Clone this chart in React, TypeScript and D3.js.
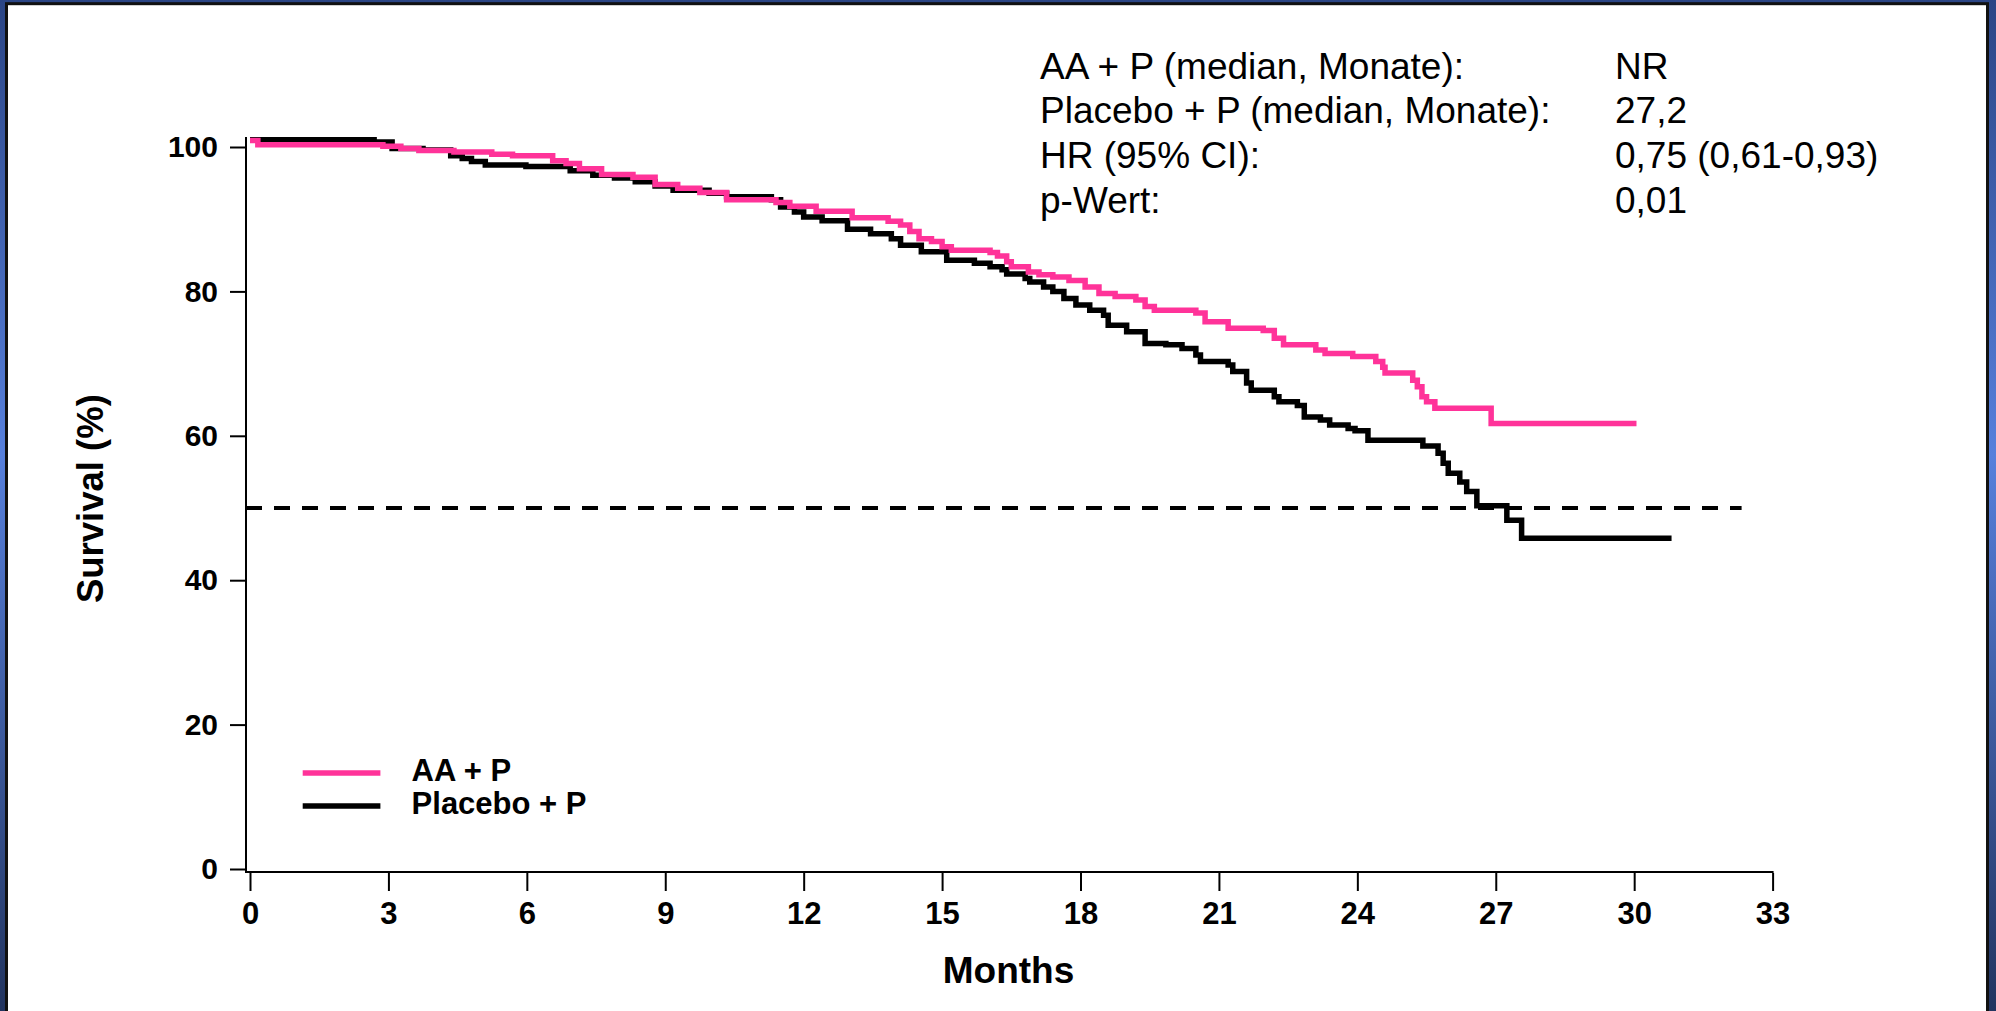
import * as d3 from "d3";
import { useEffect, useRef } from "react";

// Kaplan-Meier steps: [month, survival %]
const aaSteps: [number, number][] = [
  [0, 100.9], [0.17, 100.3], [2.88, 100.1], [3.27, 99.8], [3.66, 99.5],
  [4.42, 99.3], [5.24, 99.0], [5.69, 98.8], [6.56, 98.1], [6.85, 97.7],
  [7.14, 97.0], [7.62, 96.2], [8.3, 95.8], [8.78, 94.8], [9.27, 94.3],
  [9.75, 93.7], [10.33, 92.7], [11.4, 92.3], [11.7, 91.8], [12.27, 91.1],
  [13.05, 90.2], [13.83, 89.7], [14.1, 89.2], [14.3, 88.3], [14.5, 87.3],
  [14.77, 86.9], [15.0, 86.2], [15.2, 85.7], [16.04, 85.4], [16.2, 84.9],
  [16.4, 84.1], [16.5, 83.4], [16.87, 82.7], [17.1, 82.3], [17.4, 82.0],
  [17.75, 81.5], [18.1, 80.6], [18.4, 79.7], [18.75, 79.3], [19.2, 78.8],
  [19.4, 77.9], [19.6, 77.4], [20.5, 77.0], [20.7, 75.8], [21.2, 74.9],
  [21.96, 74.6], [22.2, 73.5], [22.4, 72.6], [23.1, 71.9], [23.3, 71.4],
  [23.9, 71.0], [24.4, 70.3], [24.55, 69.5], [24.6, 68.7], [25.2, 67.7],
  [25.3, 66.8], [25.4, 65.4], [25.5, 64.7], [25.68, 63.8], [26.9, 61.7],
  [30.05, 61.7],
];

const placeboSteps: [number, number][] = [
  [0, 101.0], [2.69, 100.7], [3.08, 99.8], [3.75, 99.6], [4.35, 98.8],
  [4.6, 98.4], [4.8, 98.0], [5.1, 97.5], [5.98, 97.3], [6.94, 96.7],
  [7.43, 96.1], [7.9, 95.7], [8.35, 95.2], [8.78, 94.6], [9.17, 94.0],
  [9.95, 93.6], [10.33, 93.1], [11.3, 92.7], [11.5, 91.7], [11.8, 91.0],
  [12.0, 90.3], [12.4, 89.8], [12.95, 88.6], [13.45, 88.0], [13.9, 87.3],
  [14.1, 86.4], [14.55, 85.5], [15.1, 84.3], [15.7, 83.9], [16.04, 83.4],
  [16.3, 83.0], [16.4, 82.4], [16.8, 81.8], [16.9, 81.3], [17.2, 80.6],
  [17.4, 80.0], [17.64, 79.0], [17.9, 78.1], [18.2, 77.4], [18.5, 76.7],
  [18.6, 75.3], [19.0, 74.4], [19.4, 72.8], [19.85, 72.6], [20.2, 72.1],
  [20.5, 71.2], [20.6, 70.3], [21.2, 69.8], [21.3, 68.9], [21.6, 67.3],
  [21.7, 66.3], [22.2, 65.4], [22.3, 64.7], [22.7, 64.2], [22.85, 62.6],
  [23.2, 62.2], [23.4, 61.5], [23.8, 61.0], [23.95, 60.7], [24.23, 59.4],
  [25.42, 58.6], [25.75, 57.6], [25.86, 56.2], [25.97, 54.8], [26.22, 53.6],
  [26.37, 52.3], [26.59, 50.3], [27.24, 48.3], [27.56, 45.8], [30.81, 45.8],
];

const xTicks = [0, 3, 6, 9, 12, 15, 18, 21, 24, 27, 30, 33];
const yTicks = [0, 20, 40, 60, 80, 100];
const medianLevel = 50;

const seriesLabels = ["AA + P", "Placebo + P"];
const seriesColors = ["#ff3399", "#000000"];

const statLabels = [
  "AA + P (median, Monate):",
  "Placebo + P (median, Monate):",
  "HR (95% CI):",
  "p-Wert:",
];
const statValues = ["NR", "27,2", "0,75 (0,61-0,93)", "0,01"];

const width = 1996;
const height = 1011;
const font = "'Liberation Sans', Arial, Helvetica, sans-serif";

export default function App() {
  const svgRef = useRef<SVGSVGElement>(null);

  useEffect(() => {
    if (!svgRef.current) return;
    const svg = d3.select(svgRef.current);
    svg.selectAll("*").remove();

    // blue slide frame
    const grad = svg
      .append("defs")
      .append("linearGradient")
      .attr("id", "bg")
      .attr("x1", 0)
      .attr("y1", 0)
      .attr("x2", 0)
      .attr("y2", 1);
    grad.append("stop").attr("offset", "0%").attr("stop-color", "#2b4585");
    grad.append("stop").attr("offset", "45%").attr("stop-color", "#5780dc");
    grad.append("stop").attr("offset", "100%").attr("stop-color", "#22345f");

    svg.append("rect").attr("width", width).attr("height", height).attr("fill", "url(#bg)");
    svg
      .append("rect")
      .attr("x", 6.5)
      .attr("y", 3.7)
      .attr("width", 1981)
      .attr("height", 1030)
      .attr("fill", "#fff")
      .attr("stroke", "#111")
      .attr("stroke-width", 3);

    const x = d3.scaleLinear().domain([0, 33]).range([250, 1772.6]);
    const y = d3.scaleLinear().domain([0, 100]).range([869, 147]);

    // y axis
    const yAxis = svg
      .append("g")
      .attr("transform", "translate(246,0)")
      .call(d3.axisLeft(y).tickValues(yTicks).tickSize(16).tickPadding(12));
    yAxis.select(".domain").remove();
    yAxis.selectAll("line").attr("stroke-width", 2);
    yAxis
      .selectAll("text")
      .attr("font-family", font)
      .attr("font-size", 30)
      .attr("font-weight", "bold")
      .attr("fill", "#000");
    svg
      .append("line")
      .attr("x1", 246)
      .attr("x2", 246)
      .attr("y1", y(101.4))
      .attr("y2", 872)
      .attr("stroke", "#000")
      .attr("stroke-width", 2);

    // x axis
    const xAxis = svg
      .append("g")
      .attr("transform", "translate(0,873)")
      .call(d3.axisBottom(x).tickValues(xTicks).tickSize(18).tickPadding(11));
    xAxis.select(".domain").remove();
    xAxis.selectAll("line").attr("stroke-width", 2);
    xAxis
      .selectAll("text")
      .attr("font-family", font)
      .attr("font-size", 31)
      .attr("font-weight", "bold")
      .attr("fill", "#000");
    svg
      .append("line")
      .attr("x1", 245)
      .attr("x2", x(33) + 1)
      .attr("y1", 872)
      .attr("y2", 872)
      .attr("stroke", "#000")
      .attr("stroke-width", 2.2);

    // axis titles
    svg
      .append("text")
      .attr("transform", "translate(103,498.6) rotate(-90)")
      .attr("text-anchor", "middle")
      .attr("font-family", font)
      .attr("font-size", 36.5)
      .attr("font-weight", "bold")
      .text("Survival (%)");
    svg
      .append("text")
      .attr("x", 1008.5)
      .attr("y", 983)
      .attr("text-anchor", "middle")
      .attr("font-family", font)
      .attr("font-size", 37)
      .attr("font-weight", "bold")
      .text("Months");

    // median reference line
    svg
      .append("line")
      .attr("x1", 246)
      .attr("x2", 1741.6)
      .attr("y1", y(medianLevel))
      .attr("y2", y(medianLevel))
      .attr("stroke", "#000")
      .attr("stroke-width", 4)
      .attr("stroke-dasharray", "16 12");

    // survival curves
    const line = d3
      .line<[number, number]>()
      .x((d) => x(d[0]))
      .y((d) => y(d[1]))
      .curve(d3.curveStepAfter);

    [placeboSteps, aaSteps].forEach((steps, i) => {
      svg
        .append("path")
        .attr("d", line(steps))
        .attr("fill", "none")
        .attr("stroke", seriesColors[1 - i])
        .attr("stroke-width", 5.5);
    });

    // legend
    const legend = svg.append("g");
    seriesLabels.forEach((label, i) => {
      const ly = 773 + i * 33;
      legend
        .append("line")
        .attr("x1", 302.7)
        .attr("x2", 380.4)
        .attr("y1", ly)
        .attr("y2", ly)
        .attr("stroke", seriesColors[i])
        .attr("stroke-width", 5.5);
      legend
        .append("text")
        .attr("x", 411.6)
        .attr("y", ly + 8)
        .attr("font-family", font)
        .attr("font-size", 31)
        .attr("font-weight", "bold")
        .text(label);
    });

    // statistics block
    const stats = svg.append("g").attr("font-family", font).attr("font-size", 37);
    statLabels.forEach((label, i) => {
      const by = 78.6 + i * 44.7;
      stats.append("text").attr("x", 1040).attr("y", by).text(label);
      stats.append("text").attr("x", 1615).attr("y", by).text(statValues[i]);
    });

    return () => {
      svg.selectAll("*").remove();
    };
  }, []);

  return (
    <svg
      ref={svgRef}
      width={width}
      height={height}
      style={{ position: "absolute", left: 0, top: 0, display: "block" }}
    />
  );
}
